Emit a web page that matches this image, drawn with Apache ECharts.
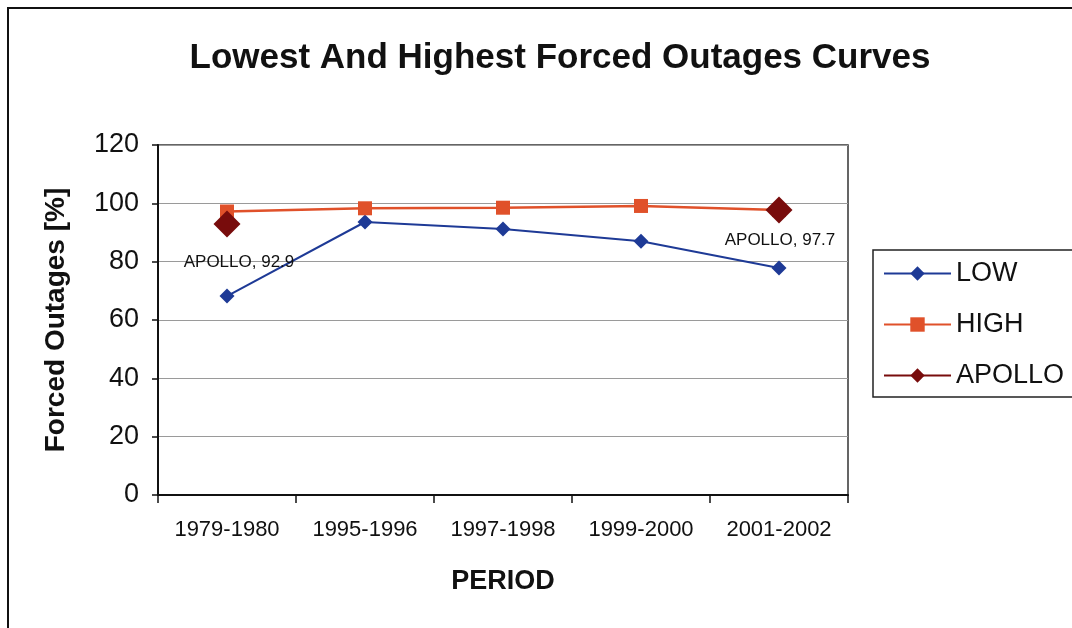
<!DOCTYPE html>
<html>
<head>
<meta charset="utf-8">
<script src="https://cdn.jsdelivr.net/npm/echarts@6/dist/echarts.min.js"></script>
<style>
  html, body { margin: 0; padding: 0; background: #fff; }
  #chart { width: 1072px; height: 628px; }
</style>
</head>
<body>
<div id="chart"></div>
<script>
// Forced outage rates per period
const periods = ['1979-1980', '1995-1996', '1997-1998', '1999-2000', '2001-2002'];
const lowValues = [68.2, 93.6, 91.2, 87.0, 77.8];
const highValues = [97.2, 98.3, 98.5, 99.1, 97.7];
const apolloValues = [92.9, null, null, null, 97.7];
const yTicks = { min: 0, max: 120, interval: 20 };

// label nudges for the two APOLLO points (x, y in px)
const apolloLabelOffsets = [[12, 4], [1, -4]];

const FONT = '"Liberation Sans", Arial, sans-serif';
const GRID = { left: 158, right: 224, top: 145, bottom: 133 };
const chart = echarts.init(document.getElementById('chart'));

const apolloData = apolloValues.map((v, i) => {
  if (v === null) return null;
  const off = i === 0 ? apolloLabelOffsets[0] : apolloLabelOffsets[1];
  return { value: v, label: { offset: off } };
});

chart.setOption({
  backgroundColor: '#ffffff',
  animation: false,
  graphic: [
    {
      type: 'rect',
      shape: { x: 8, y: 8, width: 1080, height: 640 },
      style: { fill: 'none', stroke: '#111', lineWidth: 2 },
      silent: true
    },
    {
      type: 'rect',
      shape: { x: GRID.left, y: GRID.top, width: 1072 - GRID.left - GRID.right, height: 628 - GRID.top - GRID.bottom },
      style: { fill: 'none', stroke: '#333', lineWidth: 1.5 },
      silent: true,
      z: 0
    }
  ],
  title: {
    text: 'Lowest And Highest Forced Outages Curves',
    left: 555,
    textAlign: 'center',
    top: 36,
    textStyle: { fontFamily: FONT, fontSize: 35, fontWeight: 'bold', color: '#111' }
  },
  legend: {
    orient: 'vertical',
    left: 873,
    top: 250,
    padding: [10, 20, 8, 10],
    itemGap: 24,
    itemWidth: 67,
    itemHeight: 18,
    borderColor: '#222',
    borderWidth: 1.5,
    textStyle: { fontFamily: FONT, fontSize: 27, color: '#111', lineHeight: 27, padding: [0, 0, 0, 0] },
    data: ['LOW', 'HIGH', 'APOLLO']
  },
  grid: { left: GRID.left, right: GRID.right, top: GRID.top, bottom: GRID.bottom, containLabel: false },
  xAxis: {
    type: 'category',
    data: periods,
    boundaryGap: true,
    name: 'PERIOD',
    nameLocation: 'middle',
    nameGap: 73,
    nameTextStyle: { fontFamily: FONT, fontSize: 27, fontWeight: 'bold', color: '#111' },
    axisLine: { lineStyle: { color: '#111', width: 2 } },
    axisTick: { show: true, interval: 0, alignWithLabel: false, length: 8, lineStyle: { color: '#111', width: 1.5 } },
    axisLabel: { interval: 0, fontFamily: FONT, fontSize: 22, color: '#111', margin: 24 },
    splitLine: { show: false }
  },
  yAxis: {
    type: 'value',
    min: yTicks.min,
    max: yTicks.max,
    interval: yTicks.interval,
    name: 'Forced Outages [%]',
    nameLocation: 'middle',
    nameGap: 88,
    nameTextStyle: { fontFamily: FONT, fontSize: 28, fontWeight: 'bold', color: '#111' },
    axisLine: { show: true, lineStyle: { color: '#111', width: 2 } },
    axisTick: { show: true, length: 6, lineStyle: { color: '#111', width: 1.5 } },
    axisLabel: { fontFamily: FONT, fontSize: 27, color: '#111', margin: 19 },
    splitLine: { show: true, lineStyle: { color: '#9a9a9a', width: 1.2 } }
  },
  series: [
    {
      name: 'LOW',
      type: 'line',
      data: lowValues,
      symbol: 'diamond',
      symbolSize: 15,
      color: '#1e3a96',
      lineStyle: { color: '#1e3a96', width: 2 },
      itemStyle: { color: '#1e3a96' },
      z: 3
    },
    {
      name: 'HIGH',
      type: 'line',
      data: highValues,
      symbol: 'rect',
      symbolSize: 14,
      color: '#e0512a',
      lineStyle: { color: '#e0512a', width: 2.5 },
      itemStyle: { color: '#e0512a' },
      z: 4
    },
    {
      name: 'APOLLO',
      type: 'line',
      data: apolloData,
      connectNulls: false,
      symbol: 'diamond',
      symbolSize: 27,
      color: '#780c0c',
      lineStyle: { color: '#780c0c', width: 2 },
      itemStyle: { color: '#780c0c' },
      z: 5,
      label: {
        show: true,
        position: 'bottom',
        distance: 12,
        formatter: p => p.seriesName + ', ' + p.value,
        fontFamily: FONT,
        fontSize: 17,
        color: '#111'
      }
    }
  ]
});
</script>
</body>
</html>
